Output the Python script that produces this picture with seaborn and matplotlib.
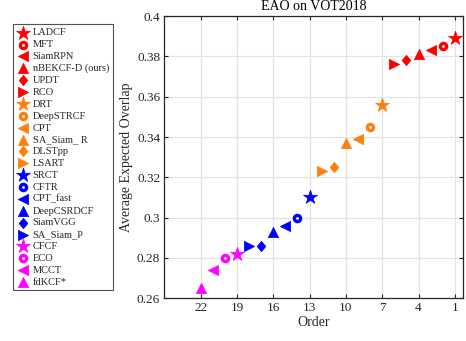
import matplotlib
matplotlib.use("Agg")
import matplotlib.pyplot as plt
import seaborn as sns
import pandas as pd

trackers = ["LADCF", "MFT", "SiamRPN", "nBEKCF-D (ours)", "UPDT", "RCO",
            "DRT", "DeepSTRCF", "CPT", "SA_Siam_ R", "DLSTpp", "LSART",
            "SRCT", "CFTR", "CPT_fast", "DeepCSRDCF", "SiamVGG", "SA_Siam_P",
            "CFCF", "ECO", "MCCT", "fdKCF*"]
order = list(range(1, 23))
eao = [0.389, 0.385, 0.383, 0.381, 0.378, 0.376,
       0.356, 0.345, 0.339, 0.337, 0.325, 0.323,
       0.310, 0.300, 0.296, 0.293, 0.286, 0.286,
       0.282, 0.280, 0.274, 0.265]
group_colors = ["#ff0000", "#ff7f0e", "#0000ff", "#ff00ff"]
diamond = [(0, 1), (0.85, 0), (0, -1), (-0.85, 0), (0, 1)]
shapes = ["*", "o", "<", "^", "dia", ">"]
x_ticks = [22, 19, 16, 13, 10, 7, 4, 1]
y_ticks = [0.26, 0.28, 0.30, 0.32, 0.34, 0.36, 0.38, 0.40]

df = pd.DataFrame({"tracker": trackers, "order": order, "eao": eao})

sns.set_theme(style="whitegrid")
plt.rcParams["font.family"] = ["Liberation Serif", "DejaVu Serif"]

fig = plt.figure(figsize=(4.66, 3.41), dpi=100)
ax = fig.add_axes([0.3526, 0.1252, 0.6416, 0.8278])

sizes = {"*": 110, "o": 20, "<": 55, "^": 55, "dia": 55, ">": 55}
for i, row in df.iterrows():
    col = group_colors[i // 6] if i < 18 else group_colors[3]
    if i >= 18:
        shp = ["*", "o", "<", "^"][i - 18]
    else:
        shp = shapes[i % 6]
    mk = diamond if shp == "dia" else shp
    kw = dict(x=[row["order"]], y=[row["eao"]], marker=mk, s=sizes[shp],
              label=row["tracker"], ax=ax, zorder=3)
    if shp == "o":
        sns.scatterplot(color="white", edgecolor=col, linewidth=2.4, **kw)
    else:
        sns.scatterplot(color=col, edgecolor=col, linewidth=0.5, **kw)

ax.set_xlim(25, 0.3)
ax.set_ylim(0.26, 0.40)
ax.set_xticks(x_ticks)
ax.set_xticklabels([str(t) for t in x_ticks])
ax.set_yticks(y_ticks)
ax.set_yticklabels(["0.26", "0.28", "0.3", "0.32", "0.34", "0.36", "0.38", "0.4"])
ax.grid(True, color="#e3e3e3", linewidth=0.9)
ax.set_facecolor("white")
for sp in ax.spines.values():
    sp.set_color("#262626")
    sp.set_linewidth(0.9)
ax.tick_params(direction="in", length=3, width=0.8, color="#262626",
               labelsize=9.5, labelcolor="#262626", top=True, right=True,
               bottom=True, left=True, pad=3)
ax.set_xlabel("Order", fontsize=10, color="#262626", labelpad=1)
ax.set_ylabel("Average Expected Overlap", fontsize=10, color="#262626", labelpad=3)
ax.set_title("EAO on VOT2018", fontsize=10, color="#000000", pad=4)

leg = ax.legend(loc="upper left", bbox_to_anchor=(-0.505, 0.97), fontsize=7.5,
                frameon=True, fancybox=False, borderpad=0.35, labelspacing=0.245,
                handletextpad=0.3, borderaxespad=0, handlelength=1.2, markerscale=1.0)
leg.get_frame().set_edgecolor("#262626")
leg.get_frame().set_linewidth(0.8)

fig.savefig("out.png", dpi=100)
